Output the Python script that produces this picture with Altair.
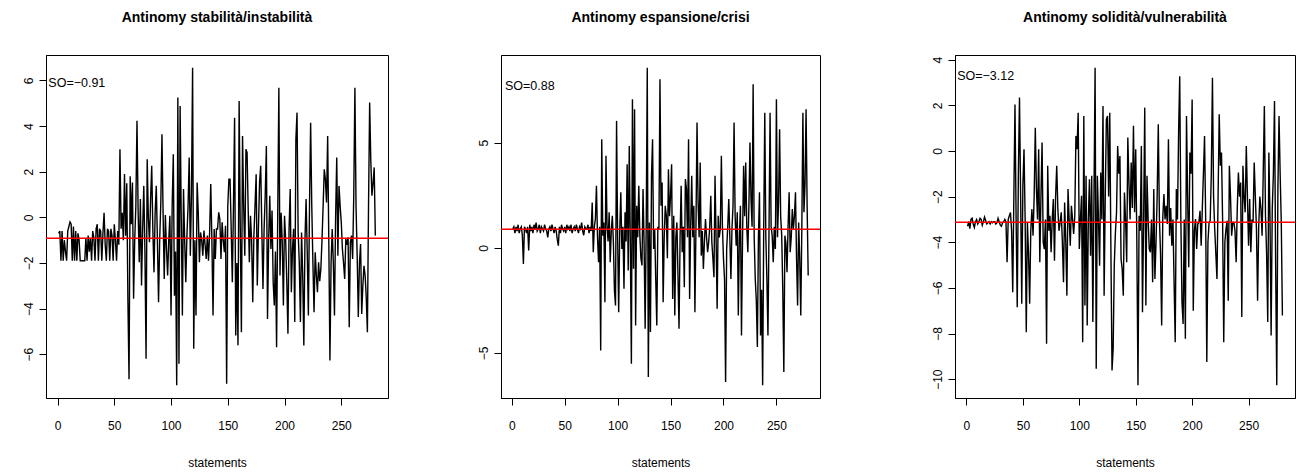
import altair as alt
import pandas as pd

titles = ["Antinomy stabilità/instabilità", "Antinomy espansione/crisi", "Antinomy solidità/vulnerabilità"]
so_values = [-0.91, 0.88, -3.12]
so_labels = ["SO=\u22120.91", "SO=0.88", "SO=\u22123.12"]
y_ticks = [[-6, -4, -2, 0, 2, 4, 6], [-5, 0, 5], [-10, -8, -6, -4, -2, 0, 2, 4]]
x_ticks = [0, 50, 100, 150, 200, 250]

stab = [
    -0.7, -0.6, -1.9, -0.6, -1.9, -1.0, -1.5, -1.9, -0.6, -0.4,
    -0.2, -0.3, -1.9, -0.4, -1.9, -0.6, -1.9, -0.7, -1.0, -1.9,
    -1.9, -1.9, -1.9, -1.9, -0.9, -1.9, -0.8, -1.5, -0.9, -1.9,
    -0.6, -0.9, -1.9, -0.5, -0.3, -1.9, -0.5, -0.6, -1.9, -0.7,
    0.2, -1.2, -1.9, -0.5, -0.6, -1.9, -0.5, -0.8, -1.9, -0.3,
    -1.0, -1.9, -0.6, -1.2, 2.99, -0.5, 0.2, -1.0, 1.9, -0.8,
    1.5, -3.6, -7.1, 1.8, -0.3, 1.53, -3.57, -1.0, 0.5, 4.23,
    0.3, -1.97, 0.8, -2.99, -0.5, 1.38, -1.5, -6.2, 2.55, 0.0,
    -1.09, 0.8, 2.26, -0.6, -2.41, 0.2, 1.38, -1.0, -3.72, -1.0,
    0.65, 3.64, 0.2, -2.7, 0.1, -1.39, -2.55, -1.0, 0.07, -4.3,
    0.5, 2.77, -3.43, -1.5, -7.36, 5.25, -6.42, 4.88, 0.0, -4.3,
    1.24, -1.0, -2.84, -0.8, 0.5, 2.62, -1.68, 1.0, 6.56, -5.76,
    -1.0, -4.3, 1.53, 0.2, -1.97, -0.66, -1.0, -1.68, -0.58, -1.2,
    -1.82, -0.8, -1.9, -0.66, 1.46, -1.0, -4.3, -0.51, -1.82, -0.5,
    -0.51, 0.22, -0.07, -1.82, -0.22, -1.0, -1.53, -0.37, -7.29, 0.5,
    1.67, 1.67, -0.5, -2.84, 0.5, 4.37, -5.18, -2.0, -5.61, 5.1,
    -0.5, -5.03, 3.57, 0.5, -1.68, 2.99, 2.84, 0.3, -1.97, 0.07,
    -1.0, -3.72, -0.8, 0.5, 1.89, -2.99, -0.5, 1.53, 2.26, -0.5,
    -3.14, -0.51, 1.0, 3.13, -4.45, -1.0, 0.95, -1.39, 0.3, -2.84,
    -3.86, -1.5, -5.69, 0.07, 5.68, -2.55, 0.2, -1.09, -3.86, 0.07,
    -1.0, -2.84, -5.1, -0.5, 1.24, -3.28, -1.39, -0.5, -4.59, 3.42,
    4.59, -0.66, -2.0, -4.59, -0.66, -2.5, -5.61, -1.0, 0.8, -1.5,
    -4.3, 0.5, 4.15, 0.5, -2.0, -4.16, -1.53, -2.5, -3.28, -1.97,
    -2.8, -2.26, -1.0, 0.5, 2.11, 1.67, 0.65, 3.57, -1.0, -6.27,
    -2.0, -0.51, -2.0, -4.3, 0.0, 2.62, -1.68, 1.38, 0.5, -0.22,
    -1.39, -2.0, -2.7, -0.95, -1.2, -0.88, -4.81, -1.09, -0.8, -1.82,
    1.0, 5.68, 0.5, -1.68, -4.37, -2.0, -1.17, -4.23, -3.0, -2.12,
    -2.55, -3.5, -5.03, 0.5, 5.03, 2.5, 0.95, 1.5, 2.19, -0.8,
]

espa = [
    0.9, 1.0, 0.7, 1.0, 0.8, 1.1, 0.7, 0.9, 1.0, 0.6,
    -0.77, 1.0, 0.9, 0.7, 1.0, -0.13, 1.1, 0.8, 1.0, 0.7,
    1.1, 0.9, 1.2, 0.8, 0.9, 1.1, 0.7, 1.0, 0.9, 0.8,
    1.1, 0.9, 0.8, 0.5, 0.9, 1.0, 0.8, 1.1, 0.9, 0.7,
    1.0, 0.8, 0.4, 0.1, 1.0, 0.7, 1.1, 0.9, 0.8, 1.0,
    0.7, 1.1, 0.9, 1.0, 0.8, 1.1, 0.7, 0.9, 1.0, 0.8,
    1.1, 0.9, 0.7, 1.0, 0.9, 1.2, 0.8, 0.6, 1.0, 0.9,
    0.9, 1.1, 0.7, 1.0, 0.8, 2.16, -0.21, 1.0, 1.37, 2.95,
    0.5, -0.69, 1.0, -4.88, 5.17, 0.58, 1.2, -2.59, 4.38, 1.05,
    0.3, 1.69, -0.69, 0.8, 1.53, 0.26, -2.03, -2.74, 6.04, 0.5,
    -3.06, 0.8, 2.64, -0.05, 1.0, -1.95, 1.69, 0.3, 3.98, -1.08,
    4.85, 0.2, -5.51, 7.07, -1.0, 6.59, -3.69, 2.0, 0.5, 2.95,
    0.58, -0.5, -0.84, 2.8, 0.2, -3.85, 1.0, 8.57, -6.15, 1.21,
    -4.01, 3.43, 5.17, -0.05, 0.9, -1.5, -3.69, 1.0, 0.9, 8.02,
    2.0, 3.11, -2.59, 0.5, 2.0, 1.53, -0.5, 3.74, 1.5, 2.48,
    3.98, -2.43, 1.53, -3.22, 0.5, 1.21, -1.32, -3.85, 0.5, 2.95,
    -0.21, 1.0, -1.87, 3.27, 2.8, 0.5, 5.17, -2.43, 1.0, 3.43,
    0.5, 2.0, -3.06, 1.0, 5.96, 2.16, 0.5, 4.06, -0.37, 0.8,
    -1.0, 0.3, 1.37, 0.5, -0.21, 0.26, 1.0, 2.48, 0.26, -0.5,
    -1.4, 3.43, 0.5, -2.9, 1.53, 0.5, 0.9, 4.38, 1.0, -0.53,
    -1.5, -6.38, -0.05, 1.0, 2.32, 0.5, -1.48, 0.9, 2.0, 5.96,
    1.5, 0.1, 1.69, -3.22, 0.5, 2.0, -4.17, 0.5, 3.9, 1.5,
    4.06, 1.0, -0.21, 2.0, 5.01, 2.32, 1.0, 7.78, 0.5, -1.48,
    -2.5, -4.72, 0.5, 2.64, -4.17, -2.0, -6.54, 1.0, 6.43, 0.5,
    -1.5, -4.17, 0.9, 6.43, 1.0, 0.58, -0.69, 1.0, -0.05, 7.07,
    0.5, 2.16, 5.64, 1.5, 0.58, -2.0, -5.91, 0.58, 0.2, -1.16,
    1.0, 2.64, -0.21, 0.5, 1.85, 0.9, 1.5, 2.64, -0.5, -2.74,
    1.21, -0.5, -3.22, 1.0, 6.43, 1.69, 3.0, 6.59, 2.0, -1.32,
]

soli = [
    -3.3, -3.1, -3.4, -3.0, -2.95, -3.2, -3.35, -3.1, -3.0, -3.2,
    -3.1, -2.95, -3.0, -3.25, -3.1, -2.9, -3.05, -3.2, -3.15, -3.1,
    -3.2, -3.1, -3.15, -3.1, -3.1, -3.2, -3.15, -2.95, -3.1, -3.25,
    -3.3, -3.15, -3.1, -3.0, -3.1, -4.88, -3.0, -2.84, -2.7, -3.5,
    -6.19, -2.0, 2.04, -3.0, -6.85, -1.0, 2.34, -2.0, -6.7, -1.5,
    0.08, -3.0, -7.94, -3.13, -4.5, -6.7, -3.5, -2.55, -3.71, -2.0,
    1.02, -1.67, -3.0, 0.08, -4.88, -2.0, 0.37, -4.0, -4.3, -3.0,
    -8.45, -0.65, -3.5, -2.84, -4.44, -3.0, -2.11, -4.81, -2.0, -0.65,
    -2.55, -3.5, -3.13, -2.69, -4.0, -5.75, -2.26, -4.0, -6.34, -1.67,
    -3.0, -4.15, -2.4, -3.0, -3.64, -2.84, 0.66, 0.08, 1.68, -4.3,
    -3.0, -1.96, -8.38, 1.53, -6.77, -1.09, -7.65, -3.0, -1.24, -4.59,
    -1.09, -7.5, -2.0, 3.65, -9.54, -1.09, -3.0, -5.03, -0.94, -3.0,
    1.97, -6.34, -2.0, 1.39, 1.53, -2.0, 1.68, -4.3, -9.62, -8.67,
    -5.0, -3.57, -2.69, 0.22, -1.0, -0.22, -4.73, -5.17, -6.34, -1.82,
    -3.0, -4.88, 0.59, -1.38, -3.0, -0.51, -2.5, 1.1, -2.69, 0.08,
    -4.0, -10.27, -2.84, -3.5, 0.22, -7.07, -3.0, 1.9, -6.77, -1.09,
    -3.0, -4.3, -4.44, -3.0, -5.75, -1.67, -5.61, -4.0, -2.0, 1.17,
    -2.98, -4.5, -7.65, -2.91, -1.89, -3.0, -2.4, -3.2, 0.51, -3.71,
    -2.5, -4.15, -3.0, -5.75, -8.38, -1.67, -3.0, 0.8, 3.28, -3.0,
    -6.63, -7.58, -3.0, -8.23, 1.53, -2.0, -5.1, -0.07, -1.0, 2.26,
    -7.0, -3.5, -2.98, -4.3, -3.2, -3.13, -2.62, -4.15, -2.55, -1.0,
    0.66, -3.0, -9.25, -4.0, -3.13, -3.06, -1.0, 3.21, -2.0, -3.42,
    -4.5, -5.61, -2.0, 1.61, -0.65, -0.07, -3.0, -8.38, -4.0, -3.42,
    -3.06, -6.56, -0.65, -2.0, -3.71, -3.13, -3.13, -3.5, -4.88, -2.5,
    -0.94, -2.0, -1.38, -7.28, -0.65, -2.0, -2.69, 0.22, -2.0, -4.15,
    -2.11, -4.44, -3.0, -3.13, -0.51, -2.0, -3.42, -6.56, -3.28, -2.0,
    -2.55, -3.71, -1.0, 1.97, -2.84, -4.5, -7.5, -0.07, -3.0, -8.09,
    -2.55, -1.0, 2.19, -5.0, -10.27, -1.67, 1.53, -1.0, -3.13, -7.21,
]

series = [stab, espa, soli]
widths = [342, 319, 340]
extents = [30, 27, 49]
FONT = "Liberation Sans"


def panel(i):
    vals = series[i]
    n = len(vals)
    df = pd.DataFrame({"statement": list(range(1, n + 1)), "score": vals})
    xr = n - 1
    xdom = [1 - 0.04 * xr, n + 0.04 * xr]
    lo, hi = min(vals), max(vals)
    yr = hi - lo
    ydom = [lo - 0.04 * yr, hi + 0.04 * yr]

    X = alt.X("statement:Q",
              scale=alt.Scale(domain=xdom, nice=False, zero=False),
              axis=alt.Axis(values=x_ticks, title="statements", format="d",
                            grid=False, tickSize=7, labelPadding=15,
                            titlePadding=26, labelFontSize=12,
                            titleFontSize=12, titleFontWeight="normal"))
    Y = alt.Y("score:Q",
              scale=alt.Scale(domain=ydom, nice=False, zero=False),
              axis=alt.Axis(values=y_ticks[i], title=None, format="d",
                            grid=False, labelAngle=-90, tickSize=7,
                            labelPadding=4, labelFontSize=12,
                            minExtent=extents[i], maxExtent=extents[i]))

    line = alt.Chart(df).mark_line(color="black", strokeWidth=1.4).encode(x=X, y=Y)
    rule = alt.Chart(pd.DataFrame({"score": [so_values[i]]})).mark_rule(
        color="#ff0000", strokeWidth=1.5).encode(y=Y)
    txt = alt.Chart(pd.DataFrame({"statement": [17], "score": [0.9 * hi],
                                  "label": [so_labels[i]]})).mark_text(
        font=FONT, fontSize=12.5, color="black", align="center").encode(
        x=X, y=Y, text="label:N")
    return alt.layer(line, rule, txt).properties(
        width=widths[i], height=343,
        title=alt.TitleParams(titles[i], fontSize=14, fontWeight="bold",
                              font=FONT, offset=30, anchor="middle"))


chart = alt.hconcat(panel(0), panel(1), panel(2), spacing=83).properties(
    padding={"left": 15, "top": 10, "right": 0, "bottom": 0},
    background="white"
).configure_view(stroke="black", strokeWidth=1).configure_axis(
    grid=False, domainColor="black", tickColor="black", labelColor="black",
    titleColor="black", labelFont=FONT, titleFont=FONT, domainWidth=1, tickWidth=1
)

chart.save("out.html", embed_options={"renderer": "svg", "actions": False})
